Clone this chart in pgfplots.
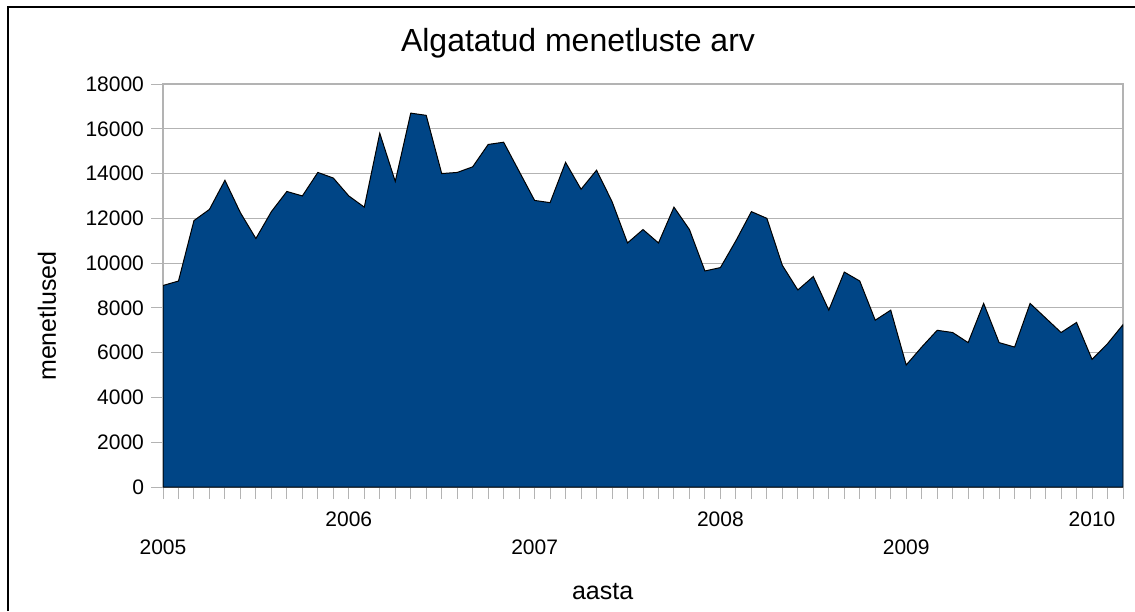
\documentclass[border=0pt]{standalone}
\usepackage{pgfplots}
\pgfplotsset{compat=1.18}
\usepackage{fontspec}
\setmainfont{Liberation Sans}
\definecolor{areablue}{HTML}{004586}
\definecolor{gridgray}{HTML}{B3B3B3}
\begin{document}
\begin{tikzpicture}
\useasboundingbox (0,0) rectangle (567.5pt,305.5pt);
\draw[line width=0.75pt] (4pt,0) -- (4pt,302pt) -- (567.5pt,302pt);
\node[anchor=base, font=\fontsize{16}{19}\selectfont] at (289pt,279.5pt) {Algatatud menetluste arv};
\begin{axis}[
  at={(81.5pt,62pt)}, anchor=south west,
  scale only axis, width=480pt, height=201.5pt,
  xmin=0, xmax=62, ymin=0, ymax=18000,
  ytick={0,2000,...,18000},
  scaled y ticks=false,
  /pgf/number format/1000 sep={},
  /pgf/number format/assume math mode=true,
  tick label style={font=\fontsize{10.5}{12}\selectfont},
  xtick={12,36,60}, xticklabels={2006,2008,2010},
  extra x ticks={0,24,48}, extra x tick labels={2005,2007,2009},
  extra x tick style={xticklabel style={yshift=-14pt}},
  minor xtick={0,...,62},
  xticklabel style={yshift=-3pt},
  tick align=outside, xtick pos=bottom, ytick pos=left,
  major tick length=6pt, minor tick length=6pt,
  tick style={gridgray, line width=0.5pt},
  ymajorgrids=true,
  grid style={gridgray, line width=0.6pt},
  axis line style={gridgray, line width=0.6pt},
  xlabel={aasta}, ylabel={menetlused},
  label style={font=\fontsize{12.5}{15}\selectfont},
  xlabel style={at={(axis description cs:0.458,-0.2605)}, anchor=center},
  ylabel style={at={(axis description cs:-0.1208,0.424)}, anchor=center},
  axis on top=false,
]
\addplot[fill=areablue, draw=black, line width=0.5pt] coordinates {
(0,9000) (1,9200) (2,11900) (3,12400) (4,13700) (5,12250) (6,11100) (7,12300)
(8,13200) (9,13000) (10,14050) (11,13800) (12,13000) (13,12500) (14,15800) (15,13650)
(16,16700) (17,16600) (18,14000) (19,14050) (20,14300) (21,15300) (22,15400) (23,14100)
(24,12800) (25,12700) (26,14500) (27,13300) (28,14150) (29,12750) (30,10900) (31,11500)
(32,10900) (33,12500) (34,11500) (35,9650) (36,9800) (37,11000) (38,12300) (39,12000)
(40,9900) (41,8800) (42,9400) (43,7900) (44,9600) (45,9200) (46,7450) (47,7900)
(48,5450) (49,6250) (50,7000) (51,6900) (52,6450) (53,8200) (54,6450) (55,6250)
(56,8200) (57,7550) (58,6900) (59,7350) (60,5700) (61,6400) (62,7250)
} \closedcycle;
\end{axis}
\end{tikzpicture}
\end{document}
